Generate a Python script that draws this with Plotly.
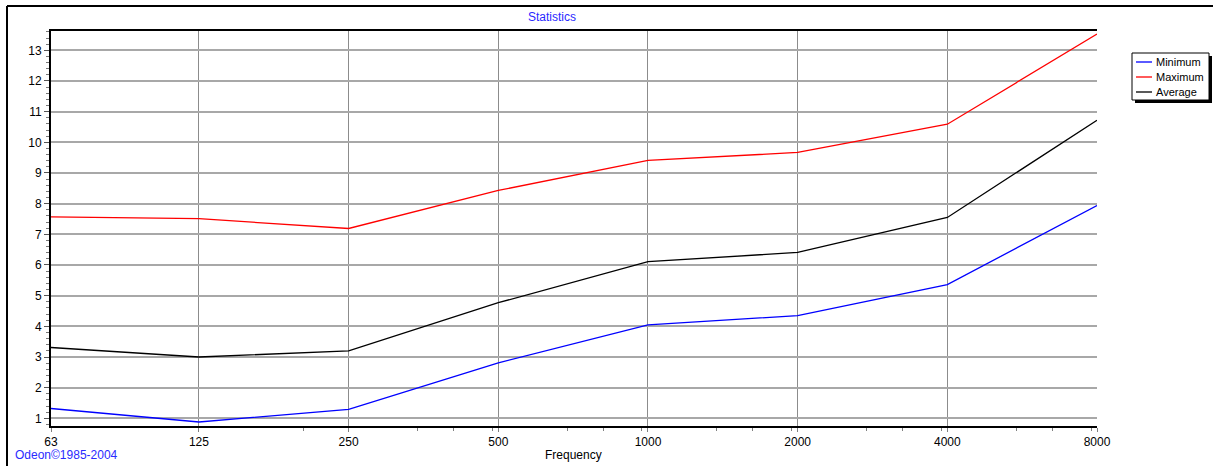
import math
import plotly.graph_objects as go

# ---- data ----
frequencies = [63, 125, 250, 500, 1000, 2000, 4000, 8000]
tick_labels = ["63", "125", "250", "500", "1000", "2000", "4000", "8000"]
series_names = ["Minimum", "Maximum", "Average"]
minimum = [1.32, 0.88, 1.29, 2.81, 4.05, 4.35, 5.36, 7.94]
maximum = [7.57, 7.51, 7.19, 8.43, 9.41, 9.67, 10.59, 13.53]
average = [3.31, 3.00, 3.20, 4.77, 6.11, 6.41, 7.55, 10.72]
y_ticks = list(range(1, 14))

colors = ["#0000ff", "#ff0000", "#000000"]
values = [minimum, maximum, average]

W, H = 1213, 466
L, R, T, B = 51, 1097, 31, 426  # plot area in pixels


def px(x):
    return (x - L) / (R - L)


def py(y):
    return (B - y) / (B - T)


fig = go.Figure()
for name, vals, col in zip(series_names, values, colors):
    fig.add_trace(go.Scatter(x=frequencies, y=vals, name=name, mode="lines",
                             line=dict(color=col, width=1.3), showlegend=False))

# minor ticks on x axis
minor_x = []
for i, f in enumerate(frequencies[:-1]):
    fracs = [0.70] if i == 1 else ([] if i == 0 else [0.46, 0.70, 0.96])
    for fr in fracs:
        minor_x.append(f * 2 ** fr)

font = dict(family="Arial, Liberation Sans, sans-serif", size=12, color="#000000")

fig.update_layout(
    width=W, height=H,
    margin=dict(l=L, r=W - R, t=T, b=H - B, pad=0, autoexpand=False),
    paper_bgcolor="white", plot_bgcolor="white",
    font=font,
    title=dict(text="Statistics", x=552 / W, y=1 - 17 / H, xanchor="center", yanchor="middle",
               font=dict(family=font["family"], size=12, color="#2a2aff")),
    xaxis=dict(
        type="log", automargin=False,
        range=[math.log10(frequencies[0]), math.log10(frequencies[-1])],
        tickmode="array", tickvals=frequencies, ticktext=tick_labels,
        ticks="outside", ticklen=4, tickcolor="#808080", tickwidth=1,
        showgrid=True, gridcolor="#8c8c8c", gridwidth=1.4,
        showline=True, linecolor="#000000", linewidth=2, mirror=True,
        minor=dict(tickvals=minor_x, ticks="outside", ticklen=3, tickcolor="#808080", showgrid=False),
        zeroline=False,
    ),
    yaxis=dict(
        automargin=False,
        range=[0.75, 13.63],
        tickmode="array", tickvals=y_ticks,
        ticks="outside", ticklen=5, tickcolor="#555555", tickwidth=1,
        showgrid=True, gridcolor="#a8a8a8", gridwidth=1.5,
        showline=True, linecolor="#000000", linewidth=2,
        minor=dict(dtick=0.2, ticks="outside", ticklen=3, tickcolor="#777777", showgrid=False),
        zeroline=False,
    ),
)

shapes = []
# outer frame (top and left border)
shapes.append(dict(type="line", xref="paper", yref="paper", x0=px(7), y0=py(6), x1=px(W + 5), y1=py(6),
                   line=dict(color="black", width=2)))
shapes.append(dict(type="line", xref="paper", yref="paper", x0=px(7), y0=py(6), x1=px(7), y1=py(H + 5),
                   line=dict(color="black", width=2)))
# legend box with shadow
lx0, lx1, ly0, ly1 = 1132, 1209, 53, 100
shapes.append(dict(type="rect", xref="paper", yref="paper", x0=px(lx0 + 3), x1=px(lx1 + 3), y0=py(ly0 + 3),
                   y1=py(ly1 + 3), fillcolor="black", line=dict(width=0)))
shapes.append(dict(type="rect", xref="paper", yref="paper", x0=px(lx0), x1=px(lx1), y0=py(ly0), y1=py(ly1),
                   fillcolor="white", line=dict(color="black", width=1)))
annotations = [
    dict(text="Odeon©1985-2004", xref="paper", yref="paper", x=px(13), y=py(455), xanchor="left",
         yanchor="middle", showarrow=False, font=dict(family=font["family"], size=12, color="#2a2aff")),
    dict(text="Frequency", xref="paper", yref="paper", x=px(573), y=py(455), xanchor="center",
         yanchor="middle", showarrow=False, font=font),
]
for i, (name, col) in enumerate(zip(series_names, colors)):
    yy = 62 + 15 * i
    shapes.append(dict(type="line", xref="paper", yref="paper", x0=px(1136), x1=px(1152), y0=py(yy), y1=py(yy),
                       line=dict(color=col, width=1.3)))
    annotations.append(dict(text=name, xref="paper", yref="paper", x=px(1154), y=py(yy), xanchor="left",
                            yanchor="middle", showarrow=False,
                            font=dict(family=font["family"], size=11, color="black")))

fig.update_layout(shapes=shapes, annotations=annotations)
fig.write_html("out.html", config={"displayModeBar": False},
               post_script="document.body.style.margin='0';document.body.style.overflow='hidden';")
